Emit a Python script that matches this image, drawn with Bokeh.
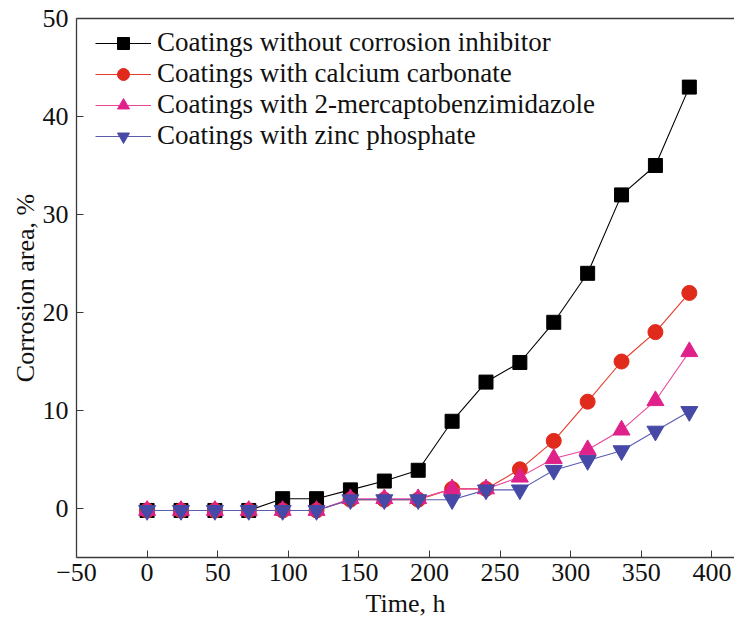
from bokeh.plotting import figure
from bokeh.models import LinearAxis, Range1d, Legend, LegendItem, FixedTicker
from bokeh.embed import file_html
from bokeh.resources import INLINE

time_h = [0, 24, 48, 72, 96, 120, 144, 168, 192, 216, 240, 264, 288, 312, 336, 360, 384]
no_inhibitor = [-0.2, -0.2, -0.2, -0.2, 1.0, 1.0, 1.9, 2.8, 3.9, 8.9, 12.9, 14.9, 19.0, 24.0, 32.0, 35.0, 43.0]
calcium_carbonate = [-0.2, -0.2, -0.2, -0.2, -0.2, -0.2, 0.9, 0.9, 0.9, 2.0, 2.0, 4.0, 6.9, 10.9, 15.0, 18.0, 22.0]
mercapto = [-0.2, -0.2, -0.2, -0.2, -0.2, -0.2, 1.0, 1.0, 1.0, 2.0, 2.0, 3.2, 5.1, 6.0, 8.0, 11.0, 16.0]
zinc_phosphate = [-0.2, -0.2, -0.2, -0.2, -0.2, -0.2, 0.9, 0.9, 0.9, 0.9, 1.9, 1.9, 3.9, 4.9, 5.9, 7.9, 9.9]

labels = ["Coatings without corrosion inhibitor",
          "Coatings with calcium carbonate",
          "Coatings with 2-mercaptobenzimidazole",
          "Coatings with zinc phosphate"]
x_ticks = [-50, 0, 50, 100, 150, 200, 250, 300, 350, 400]
y_ticks = [0, 10, 20, 30, 40, 50]

FONT = "Liberation Serif"
FS = "26px"
AXIS_COLOR = "#3a3a3a"

p = figure(width=734, height=620, output_backend="svg", toolbar_location=None,
           x_range=Range1d(-50, 416), y_range=Range1d(-5, 50),
           min_border_left=76, min_border_top=18, min_border_bottom=62, min_border_right=0)
p.outline_line_color = None
p.grid.visible = False
p.background_fill_color = "white"
p.border_fill_color = "white"

series = [
    (no_inhibitor, "black", "#000000", "square", 14),
    (calcium_carbonate, "#e53a2a", "#e02a1c", "circle", 15),
    (mercapto, "#e8469a", "#e0218a", "triangle", 17),
    (zinc_phosphate, "#5a5cb0", "#4649a6", "inverted_triangle", 17),
]

items = []
for (vals, lc, mc, mk, sz), lab in zip(series, labels):
    r1 = p.line(time_h, vals, line_color=lc, line_width=1.1)
    r2 = p.scatter(time_h, vals, marker=mk, size=sz, fill_color=mc, line_color=mc)
    items.append(LegendItem(label=lab, renderers=[r1, r2]))

legend = Legend(items=items, location=(19, 406), orientation="vertical")
legend.background_fill_alpha = 0
legend.border_line_color = None
legend.padding = 0
legend.margin = 0
legend.spacing = 0
legend.glyph_width = 56
legend.glyph_height = 30
legend.label_height = 30
legend.label_standoff = 6
legend.label_text_font = FONT
legend.label_text_font_size = "27px"
legend.label_text_color = "#111111"
p.add_layout(legend)

for ax in [p.xaxis[0], p.yaxis[0]]:
    ax.axis_line_color = AXIS_COLOR
    ax.axis_line_width = 1.3
    ax.major_tick_line_color = AXIS_COLOR
    ax.major_tick_in = 7
    ax.major_tick_out = 0
    ax.minor_tick_line_color = None
    ax.major_label_text_font = FONT
    ax.major_label_text_font_size = FS
    ax.major_label_text_color = "#111111"
    ax.axis_label_text_font = FONT
    ax.axis_label_text_font_size = FS
    ax.axis_label_text_font_style = "normal"
    ax.axis_label_text_color = "#111111"

p.xaxis[0].ticker = FixedTicker(ticks=x_ticks)
p.yaxis[0].ticker = FixedTicker(ticks=y_ticks)
p.xaxis[0].axis_label = "Time, h"
p.yaxis[0].axis_label = "Corrosion area, %"
p.xaxis[0].major_label_standoff = 6
p.xaxis[0].axis_label_standoff = 5
p.yaxis[0].major_label_standoff = 8
p.yaxis[0].axis_label_standoff = 0

top = LinearAxis(ticker=FixedTicker(ticks=[]))
top.axis_line_color = AXIS_COLOR
top.axis_line_width = 1.3
top.major_tick_line_color = None
top.minor_tick_line_color = None
top.major_label_text_font_size = "0px"
p.add_layout(top, "above")

open("out.html", "w").write(file_html(p, INLINE))
